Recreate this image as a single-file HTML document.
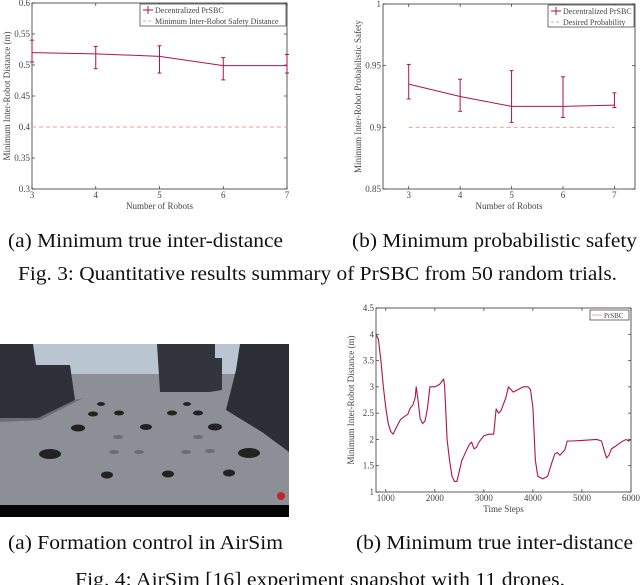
<!DOCTYPE html>
<html><head><meta charset="utf-8"><style>
html,body{margin:0;padding:0;background:#fff;}
svg{display:block;font-family:"Liberation Serif",serif;}
.tk{font-size:9px;fill:#444;}
.cap{font-size:20px;fill:#111;}
</style></head><body>
<svg id="fig" width="640" height="585" viewBox="0 0 640 585">
<g id="c1"></g>
<g id="c2"></g>
<g id="shot">
  <rect x="0" y="344" width="289" height="173" fill="#8c8f96"/>
  <rect x="0" y="344" width="289" height="30" fill="#b9c6d2"/>
  <polygon points="0,344 33,344 36,365 70,365 75,400 38,418 0,418" fill="#2e3038"/>
  <polygon points="157,344 215,344 215,358 222,358 222,390 210,392 160,392" fill="#33353c"/>
  <polygon points="240,344 289,344 289,452 262,432 226,410 236,370" fill="#2c2e36"/>
  <polygon points="0,418 38,418 75,400 83,398 40,420 0,422" fill="#6a6d74"/>
  <rect x="0" y="505" width="289" height="12" fill="#050505"/>
  <circle cx="281" cy="496" r="4" fill="#c0262f"/>
  <g fill="#222">
    <ellipse cx="50" cy="454" rx="11" ry="5"/><ellipse cx="249" cy="453" rx="11" ry="5"/>
    <ellipse cx="78" cy="428" rx="7" ry="3.5"/><ellipse cx="146" cy="427" rx="6" ry="3"/><ellipse cx="215" cy="427" rx="7" ry="3.5"/>
    <ellipse cx="93" cy="414" rx="5" ry="2.5"/><ellipse cx="119" cy="413" rx="5" ry="2.5"/><ellipse cx="172" cy="413" rx="5" ry="2.5"/><ellipse cx="198" cy="413" rx="5" ry="2.5"/>
    <ellipse cx="101" cy="404" rx="4" ry="2"/><ellipse cx="187" cy="404" rx="4" ry="2"/>
    <ellipse cx="107" cy="475" rx="6" ry="3.5"/><ellipse cx="168" cy="474" rx="6" ry="3.5"/><ellipse cx="229" cy="473" rx="6" ry="3.5"/>
  </g>
  <g fill="#5d6066" opacity="0.7">
    <ellipse cx="118" cy="437" rx="5" ry="2"/><ellipse cx="198" cy="437" rx="5" ry="2"/>
    <ellipse cx="114" cy="452" rx="5" ry="2"/><ellipse cx="139" cy="452" rx="5" ry="2"/><ellipse cx="186" cy="452" rx="5" ry="2"/><ellipse cx="210" cy="451" rx="5" ry="2"/>
  </g>
</g>
<g id="c3"></g>
<text class="cap" x="8" y="247" textLength="275" lengthAdjust="spacingAndGlyphs">(a) Minimum true inter-distance</text>
<text class="cap" x="352" y="247" textLength="285" lengthAdjust="spacingAndGlyphs">(b) Minimum probabilistic safety</text>
<text class="cap" x="18" y="280" textLength="599" lengthAdjust="spacingAndGlyphs">Fig. 3: Quantitative results summary of PrSBC from 50 random trials.</text>
<text class="cap" x="8" y="549" textLength="275" lengthAdjust="spacingAndGlyphs">(a) Formation control in AirSim</text>
<text class="cap" x="356" y="549" textLength="277" lengthAdjust="spacingAndGlyphs">(b) Minimum true inter-distance</text>
<text class="cap" x="75" y="586" textLength="490" lengthAdjust="spacingAndGlyphs">Fig. 4: AirSim [16] experiment snapshot with 11 drones.</text>
</svg>
<script>
// Chart 1 data
const robots1 = [3,4,5,6,7];
const dist1 = [0.520,0.518,0.514,0.499,0.499];
const dist1Lo = [0.505,0.494,0.487,0.476,0.487];
const dist1Hi = [0.540,0.530,0.531,0.512,0.517];
const yTicks1 = [0.3,0.35,0.4,0.45,0.5,0.55,0.6];
const safety1 = 0.4;
// Chart 2 data
const robots2 = [3,4,5,6,7];
const prob2 = [0.935,0.925,0.917,0.917,0.918];
const prob2Lo = [0.923,0.913,0.904,0.908,0.916];
const prob2Hi = [0.951,0.939,0.946,0.941,0.928];
const yTicks2 = [0.85,0.9,0.95,1];
const desired2 = 0.9;
// Chart 3 data
const steps3 = [800,850,900,950,1000,1050,1100,1150,1200,1300,1400,1450,1500,1550,1600,1620,1650,1700,1750,1800,1850,1900,2000,2100,2180,2200,2250,2300,2350,2400,2450,2500,2550,2600,2650,2700,2750,2800,2850,2900,3000,3100,3200,3250,3300,3350,3450,3500,3600,3700,3800,3900,3950,4000,4050,4100,4200,4300,4400,4450,4500,4550,4650,4700,4800,5000,5300,5400,5450,5500,5550,5600,5700,5800,5900,5950,6000];
const dist3 = [4.0,3.9,3.5,3.0,2.6,2.3,2.15,2.1,2.2,2.38,2.45,2.48,2.6,2.65,2.8,3.0,2.8,2.4,2.3,2.35,2.6,3.0,3.0,3.05,3.15,3.0,2.0,1.6,1.3,1.2,1.2,1.4,1.6,1.7,1.8,1.9,1.95,1.82,1.85,1.95,2.07,2.1,2.1,2.58,2.5,2.55,2.8,3.0,2.9,2.95,3.0,3.0,2.95,2.6,1.6,1.3,1.25,1.3,1.6,1.73,1.75,1.7,1.8,1.97,1.97,1.98,2.0,1.97,1.8,1.65,1.7,1.82,1.88,1.95,2.0,1.97,2.0];
const xTicks3 = [1000,2000,3000,4000,5000,6000];
const yTicks3 = [1,1.5,2,2.5,3,3.5,4,4.5];

const NS='http://www.w3.org/2000/svg';
function mk(parent,tag,attrs,text){const e=document.createElementNS(NS,tag);for(const k in attrs)e.setAttribute(k,attrs[k]);if(text!==undefined)e.textContent=text;parent.appendChild(e);return e;}
const LINE='#b0124f';

function frame(g,L,R,T,B,xTicks,xs,yTicks,ys,xlab,ylab,fmtY){
  const bg=mk(g,'rect',{x:L,y:T,width:R-L,height:B-T,fill:'#fff',stroke:'#333','stroke-width':0.8});
  
  
  xTicks.forEach(v=>{const x=xs(v);
    mk(g,'line',{x1:x,x2:x,y1:B,y2:B-3,stroke:'#333','stroke-width':0.7});
    mk(g,'line',{x1:x,x2:x,y1:T,y2:T+3,stroke:'#333','stroke-width':0.7});
    const t=mk(g,'text',{x:x,y:B+9,'text-anchor':'middle',class:'tk'},String(v));
    
    });
  yTicks.forEach(v=>{const y=ys(v);
    mk(g,'line',{x1:L,x2:L+3,y1:y,y2:y,stroke:'#333','stroke-width':0.7});
    mk(g,'line',{x1:R,x2:R-3,y1:y,y2:y,stroke:'#333','stroke-width':0.7});
    const t=mk(g,'text',{x:L-2,y:y+3,'text-anchor':'end',class:'tk'},fmtY(v));
    
    });
  const xl=mk(g,'text',{x:(L+R)/2,y:B+20,'text-anchor':'middle',class:'tk'},xlab);
  
  
  const yl=mk(g,'text',{x:0,y:0,'text-anchor':'middle',class:'tk',transform:`translate(${L-22},${(T+B)/2}) rotate(-90)`},ylab);
  
  
}
function errChart(g,L,R,T,B,xmin,xmax,ymin,ymax,xs_,ys_,lo,hi,yTicks,ref,ylab,leg1,leg2,legX,legW,fmtY){
  const xs=v=>L+(v-xmin)/(xmax-xmin)*(R-L);
  const ys=v=>B-(v-ymin)/(ymax-ymin)*(B-T);
  frame(g,L,R,T,B,xs_,xs,yTicks,ys,'Number of Robots',ylab,fmtY);
  const r=mk(g,'line',{x1:xs(xs_[0]),x2:xs(xs_[xs_.length-1]),y1:ys(ref),y2:ys(ref),stroke:'#f4a08a','stroke-width':1,'stroke-dasharray':'4,3'});
  
  
  const p=mk(g,'polyline',{points:xs_.map((x,i)=>xs(x)+','+ys(ys_[i])).join(' '),fill:'none',stroke:LINE,'stroke-width':1});
  
  
  xs_.forEach((x,i)=>{const e=mk(g,'g',{stroke:LINE,'stroke-width':1});
    
    
    mk(e,'line',{x1:xs(x),x2:xs(x),y1:ys(lo[i]),y2:ys(hi[i])});
    mk(e,'line',{x1:xs(x)-2,x2:xs(x)+2,y1:ys(lo[i]),y2:ys(lo[i])});
    mk(e,'line',{x1:xs(x)-2,x2:xs(x)+2,y1:ys(hi[i]),y2:ys(hi[i])});});
  const lg=mk(g,'g',{});
  
  
  mk(lg,'rect',{x:legX,y:T+1,width:legW,height:22,fill:'#fff',stroke:'#333','stroke-width':0.7});
  mk(lg,'line',{x1:legX+3,x2:legX+13,y1:T+7,y2:T+7,stroke:LINE});
  mk(lg,'line',{x1:legX+8,x2:legX+8,y1:T+3,y2:T+11,stroke:LINE});
  mk(lg,'text',{x:legX+15,y:T+10,class:'tk',style:'font-size:8px'},leg1);
  mk(lg,'line',{x1:legX+3,x2:legX+13,y1:T+18,y2:T+18,stroke:'#f4a08a','stroke-dasharray':'3,2'});
  mk(lg,'text',{x:legX+15,y:T+21,class:'tk',style:'font-size:8px'},leg2);
}
errChart(document.getElementById('c1'),32,287,3,189,3,7,0.3,0.6,robots1,dist1,dist1Lo,dist1Hi,yTicks1,safety1,'Minimum Inter-Robot Distance (m)','Decentralized PrSBC','Minimum Inter-Robot Safety Distance',140,146,v=>String(v));
errChart(document.getElementById('c2'),383,635,4,189,2.5,7.4,0.85,1.0,robots2,prob2,prob2Lo,prob2Hi,yTicks2,desired2,'Minimum Inter-Robot Probabilistic Safety','Decentralized PrSBC','Desired Probability',548,86,v=>String(v));

(function(){
  const g=document.getElementById('c3');
  const L=376,R=631,T=308,B=492;
  const xs=v=>L+(v-800)/(6000-800)*(R-L);
  const ys=v=>B-(v-1)/(4.5-1)*(B-T);
  frame(g,L,R,T,B,xTicks3,xs,yTicks3,ys,'Time Steps','Minimum Inter-Robot Distance (m)',v=>String(v));
  const p=mk(g,'polyline',{points:steps3.map((x,i)=>xs(x)+','+ys(dist3[i])).join(' '),fill:'none',stroke:LINE,'stroke-width':1.1,'stroke-linejoin':'round'});
  
  
  const lg=mk(g,'g',{});
  
  
  mk(lg,'rect',{x:590,y:310,width:39,height:10,fill:'#fff',stroke:'#333','stroke-width':0.7});
  mk(lg,'line',{x1:592,x2:602,y1:315,y2:315,stroke:'#e8a0b0'});
  mk(lg,'text',{x:604,y:318,class:'tk',style:'font-size:7px'},'PrSBC');
})();
</script>
</body></html>
